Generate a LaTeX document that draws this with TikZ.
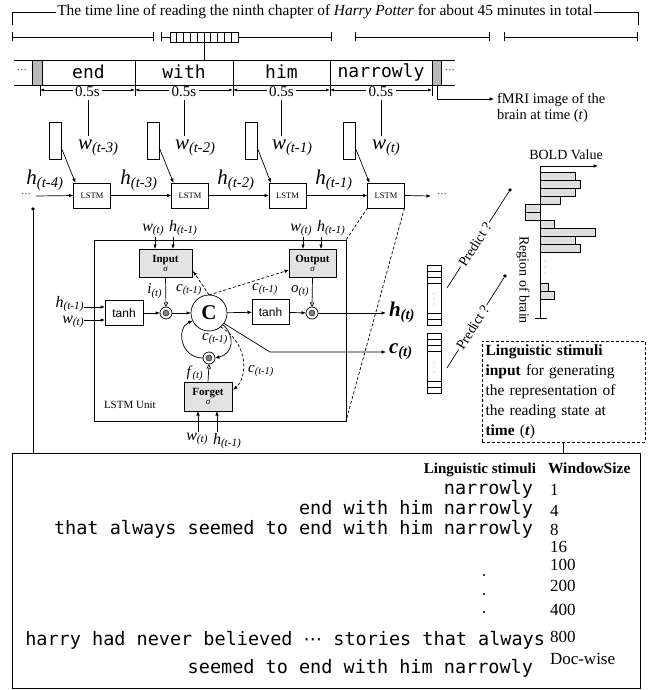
\documentclass[tikz,border=0pt]{standalone}
\usepackage{fontspec}
\setmainfont{Liberation Serif}
\setsansfont{Liberation Sans}
\setmonofont{DejaVu Sans Mono}
\newfontfamily\dvsans{DejaVu Sans}
\usetikzlibrary{arrows.meta,calc}
\newcommand{\fs}[1]{\fontsize{#1}{#1}\selectfont}
\newcommand{\vsb}[2]{\textit{#1}\textsubscript{\textit{#2}}}
\newcommand{\vbd}[2]{\textbf{\textit{#1}}\textsubscript{\textbf{\textit{#2}}}}
\begin{document}
\begin{tikzpicture}[x=1pt,y=-1pt,
  every node/.style={inner sep=0pt,outer sep=0pt},
  ln/.style={line width=0.7pt},
  arr/.style={ln,-{Latex[length=4.5pt,width=3.6pt]}},
  tri/.style={ln,-{Triangle[open,length=4.5pt,width=4.5pt]}},
  dsh/.style={ln,dash pattern=on 3pt off 2pt},
  barend/.style={ln,{Bar[width=9pt]}-{Bar[width=9pt]}},
  lstmbox/.style={draw,ln,minimum width=37pt,minimum height=25pt,font=\fs{8.5}},
  gatebox/.style={draw,ln,fill=gray!22,minimum height=28pt,align=center,font=\fs{11}\bfseries},
  tanhbox/.style={draw,ln,minimum width=38pt,minimum height=25pt,font=\sffamily\fs{12}},
  mult/.style={circle,draw,ln,minimum size=12pt},
  multin/.style={circle,draw,fill=gray,inner sep=0pt,minimum size=6pt},
  vec/.style={draw,ln,minimum width=14pt,minimum height=60pt},
  wrect/.style={draw,ln,minimum width=12pt,minimum height=37pt},
  bigl/.style={font=\fs{21}},
  smalll/.style={font=\fs{16}},
  cl/.style={font=\fs{15}},
  word/.style={font=\ttfamily\fs{18}},
  mono/.style={font=\ttfamily\fs{18.5}},
  num/.style={font=\fs{17}},
  dotn/.style={circle,fill,inner sep=1.4pt},
]
\useasboundingbox (0,0) rectangle (651,690);

% ---------- title and time line
\node[font=\fs{15.4},inner xsep=1.5pt] (title) at (325,12) {The time line of reading the ninth chapter of \textit{Harry Potter} for about 45 minutes in total};
\draw[ln] (12,25) -- (12,12) -- (title.west);
\draw[ln] (title.east) -- (638,12) -- (638,25);

\draw[barend] (12,37) -- (154,37);
\node[draw,ln,minimum width=68pt,minimum height=10pt] (stripe) at (204,37) {};
\draw[ln,{Bar[width=9pt]}-] (161,37) -- (stripe.west);
\draw[ln,-{Bar[width=9pt]}] (stripe.east) -- (332,37);
\foreach \i in {1,...,9} \draw[ln] (170+6.8*\i,32) -- (170+6.8*\i,42);
\draw[barend] (355,37) -- (490,37);
\draw[barend] (504,37) -- (638,37);

% ---------- word strip
\draw[ln] (14,60) -- (455,60);
\draw[ln] (14,85) -- (455,85);
\node[draw,ln,fill=gray!55,minimum width=10pt,minimum height=25pt] (gl) at (37,72.5) {};
\node[draw,ln,fill=gray!55,minimum width=9pt,minimum height=25pt] (gr) at (436.5,72.5) {};
\node[font=\fs{10}] (dl) at (22,72) {···};
\node[font=\fs{10}] (dr) at (450,72) {···};
\node[word] (wend) at (88.5,72) {end};
\node[word] (wwith) at (184,72) {with};
\node[word] (whim) at (281.5,72) {him};
\node[word] (wnar) at (381,72) {narrowly};
\foreach \x in {135,233,330} \draw[ln] (\x,60) -- (\x,85);
\draw[ln] (stripe.south) -- (stripe.south |- 0,60);

% ---------- 0.5 s intervals
\foreach \a/\b/\n in {40/135/1,135/233/2,233/330/3,330/432/4}{
  \draw[ln,{Latex[length=4pt,width=3pt]}-{Latex[length=4pt,width=3pt]}] (\a,90) -- (\b,90);
  \node[fill=white,inner xsep=2.5pt,inner ysep=1pt,font=\fs{15}] (half\n) at ({(\a+\b)/2},92) {0.5s};
}
\foreach \x in {40,135,233,330,432} \draw[ln] (\x,85) -- (\x,96);

% fMRI
\node[anchor=north west,align=left,font=\fontsize{14.5}{16.5}\selectfont] (fmri) at (497,93) {fMRI image of the\\brain at time (\textit{t})};
\draw[arr] (437,85) -- (437,99) -- ($(fmri.north west)+(-3,6)$);

% ---------- words to LSTM chain
\foreach \n/\x in {1/88,2/184,3/281,4/381} \draw[ln] (half\n.south -| \x,0) ++(0,2) -- (\x,136);
\node[bigl,anchor=west] (w1) at (78,148) {\vsb{w}{(t-3)}};
\node[bigl,anchor=west] (w2) at (175,148) {\vsb{w}{(t-2)}};
\node[bigl,anchor=west] (w3) at (272,148) {\vsb{w}{(t-1)}};
\node[bigl,anchor=west] (w4) at (372,148) {\vsb{w}{(t)}};

\node[wrect] (v1) at (55,140.5) {};
\node[wrect] (v2) at (153,140.5) {};
\node[wrect] (v3) at (251,140.5) {};
\node[wrect] (v4) at (349,140.5) {};

\node[lstmbox] (L1) at (92,195.5) {LSTM};
\node[lstmbox] (L2) at (190,195.5) {LSTM};
\node[lstmbox] (L3) at (287.5,195.5) {LSTM};
\node[lstmbox] (L4) at (386,195.5) {LSTM};
\foreach \i in {1,...,4} \draw[arr] ($(v\i.south east)+(0,-12)$) -- ($(L\i.north west)+(2,0)$);

\node[font=\fs{10}] (cdl) at (26,196) {···};
\node[font=\fs{10}] (cdr) at (442,196) {···};
\draw[arr] ($(cdl.east)+(5,0)$) -- (L1.west);
\draw[arr] (L1) -- (L2);
\draw[arr] (L2) -- (L3);
\draw[arr] (L3) -- (L4);
\draw[arr] (L4.east) -- ($(cdr.west)+(-6,0)$);

\node[bigl] (h4) at (45,180) {\vsb{h}{(t-4)}};
\node[bigl] (h3) at (139,180) {\vsb{h}{(t-3)}};
\node[bigl] (h2) at (236,180) {\vsb{h}{(t-2)}};
\node[bigl] (h1) at (334,180) {\vsb{h}{(t-1)}};

% ---------- LSTM unit
\node[draw,ln,minimum width=252pt,minimum height=181pt] (unit) at (220,330.5) {};
\node[font=\fs{11},anchor=west] (unitl) at (104,405) {LSTM Unit};
\draw[dsh] (L4.south west) -- (unit.north east);
\draw[dsh] (L4.south east) -- (unit.south east);

\node[gatebox,minimum width=53pt] (gin) at (165.5,263) {Input\\[-2pt]{\normalfont\itshape\fs{9}σ}};
\node[gatebox,minimum width=47pt] (gout) at (312.5,263) {Output\\[-2pt]{\normalfont\itshape\fs{9}σ}};
\node[gatebox,minimum width=48pt,minimum height=29pt] (gfor) at (208,396.5) {Forget\\[-2pt]{\normalfont\itshape\fs{9}σ}};

\node[smalll,anchor=south east] (giw) at (164,236) {\vsb{w}{(t)}};
\node[smalll,anchor=south west] (gih) at (169,236) {\vsb{h}{(t-1)}};
\draw[arr] (155,237) -- (gin.north -| 155,0);
\draw[arr] (173,237) -- (gin.north -| 173,0);
\node[smalll,anchor=south east] (gow) at (312,236) {\vsb{w}{(t)}};
\node[smalll,anchor=south west] (goh) at (317,236) {\vsb{h}{(t-1)}};
\draw[arr] (303,237) -- (gout.north -| 303,0);
\draw[arr] (321,237) -- (gout.north -| 321,0);
\node[smalll,anchor=north east] (gfw) at (208,433) {\vsb{w}{(t)}};
\node[smalll,anchor=north west] (gfh) at (213,433) {\vsb{h}{(t-1)}};
\draw[arr] (198,432) -- (gfor.south -| 198,0);
\draw[arr] (217,432) -- (gfor.south -| 217,0);

\node[tanhbox] (t1) at (124,313) {tanh};
\node[tanhbox,minimum width=37pt] (t2) at (270.5,312) {tanh};
\node[smalll,anchor=east] (hin) at (84,304) {\vsb{h}{(t-1)}};
\node[smalll,anchor=east] (win) at (84,322) {\vsb{w}{(t)}};
\draw[arr] (hin.east |- 0,307) -- (t1.west |- 0,307);
\draw[arr] (win.east |- 0,320) -- (t1.west |- 0,320);

\node[mult] (m1) at (166,313) {};
\node[multin] (m1i) at (m1) {};
\node[mult] (m2) at (312,313) {};
\node[multin] (m2i) at (m2) {};
\node[mult] (m3) at (209,358) {};
\node[multin] (m3i) at (m3) {};
\node[circle,draw,ln,minimum size=36pt,font=\fs{21}\bfseries] (C) at (209,313) {C};

\draw[arr] (t1) -- (m1);
\draw[arr] (m1) -- (C);
\draw[arr] (C) -- (t2);
\draw[arr] (t2) -- (m2);
\coordinate (hend) at (386,313);
\draw[arr] (m2) -- (hend);
\node[bigl,anchor=west] (hout) at (389,312) {\vbd{h}{(t)}};
\coordinate (cbend) at (270,352);
\coordinate (cend) at (386,352);
\draw[arr] (C.-35) -- (cbend) -- (cend);
\node[bigl,anchor=west] (cout) at (389,352) {\vbd{c}{(t)}};

\draw[tri] (gin.south) -- (m1.north);
\draw[tri] (gout.south) -- (m2.north);
\draw[tri] (gfor.north) -- (m3.south);

\draw[dsh,-{Latex[length=4.5pt,width=3.6pt]}] (C.north) -- ($(gin.south east)+(1,-6)$);
\draw[dsh,-{Latex[length=4.5pt,width=3.6pt]}] (C.north) -- ($(gout.west)+(0,7)$);
\draw[arr] (m3.west) .. controls (180,358) and (176,328) .. (C.205);
\draw[arr] (C.-40) .. controls (236,336) and (233,354) .. (m3.east);
\draw[dsh,-{Latex[length=4.5pt,width=3.6pt]}] (C.-50) .. controls (250,345) and (247,378) .. ($(gfor.north east)+(1,8)$);

\node[cl,anchor=east] (il) at (162,291) {\vsb{i}{(t)}};
\node[cl] (cl1) at (189,290) {\vsb{c}{(t-1)}};
\node[cl] (cl2) at (265,289) {\vsb{c}{(t-1)}};
\node[cl,anchor=east] (ol) at (309,291) {\vsb{o}{(t)}};
\node[cl] (cl3) at (215,339) {\vsb{c}{(t-1)}};
\node[cl] (cl4) at (261,371) {\vsb{c}{(t-1)}};
\node[cl,anchor=east] (fl) at (203,373) {\vsb{f}{(t)}};

% ---------- output vectors
\node[vec] (hv) at (434,295) {};
\node[vec] (cv) at (434,363) {};
\foreach \v in {hv,cv}{
  \foreach \d in {6,12,18} \draw[ln] ($(\v.north west)+(0,\d)$) -- ($(\v.north east)+(0,\d)$);
  \foreach \d in {6,12} \draw[ln] ($(\v.south west)+(0,-\d)$) -- ($(\v.south east)+(0,-\d)$);
  \foreach \k in {-5,0,5} \fill ($(\v.center)+(0,\k+4)$) circle (0.45pt);
}

% predict
\coordinate (q1) at (447,288);
\node[dotn] (p1) at (510,190) {};
\draw[ln] (q1) -- (p1) node[pos=0.45,sloped,fill=white,inner xsep=1.5pt,inner ysep=1pt,font=\fs{14}] (pr1) {Predict ?};
\coordinate (q2) at (447,368);
\node[dotn] (p2) at (505,276) {};
\draw[ln] (q2) -- (p2) node[pos=0.45,sloped,fill=white,inner xsep=1.5pt,inner ysep=1pt,font=\fs{14}] (pr2) {Predict ?};

% ---------- BOLD bar chart
\coordinate (ax0) at (540,166);
\coordinate (ax1) at (540,318);
\coordinate (axr) at (598,166);
\draw[arr] (ax0) -- (axr);
\draw[ln] (ax0) -- (ax1);
\draw[ln] (535,318) -- (547,318);
\node[font=\fs{14}] (boldv) at (566,155) {BOLD Value};
\foreach \y/\l in {172/35,180/40,188/35,196/20,204/-15,212/-15,220/14,228/55,236/35,244/40,283/8,291/14}
  \draw[ln,fill=gray!25] (540,\y) rectangle ({540+\l},{\y+8});
\foreach \y in {261,267,273} \fill (545,\y) circle (0.45pt);
\node[font=\fs{14},rotate=-90] (reg) at (523,280) {Region of brain};

% ---------- stimuli box and table
\node[draw,dsh,anchor=north west,text width=156pt,inner sep=3.5pt,align=left,font=\fontsize{15.5}{20}\selectfont] (ling) at (482,341) {\textbf{Linguistic stimuli}\\\textbf{input} for generating\\the representation of\\the reading state at\\\textbf{time} (\textbf{\textit{t}})};

\node[draw,ln,anchor=north west,minimum width=628pt,minimum height=235pt] (bot) at (12,453) {};
\draw[ln] (ling.south) -- (ling.south |- bot.north);
\node[dotn] (d0) at (33,209) {};
\draw[ln] (d0) -- (d0 |- bot.north);

\node[anchor=base east,font=\fs{15}\bfseries] (hd1) at (536,473) {Linguistic stimuli};
\node[anchor=base west,font=\fs{15.5}\bfseries] (hd2) at (548,473) {WindowSize};

\node[mono,anchor=base east] (s1) at (533,494) {narrowly};
\node[mono,anchor=base east] (s2) at (533,514) {end with him narrowly};
\node[mono,anchor=base east] (s3) at (533,534) {that always seemed to end with him narrowly};
\node[mono,anchor=base east] (s4) at (545,645) {harry had never believed {\dvsans ⋯} stories that always};
\node[mono,anchor=base east] (s5) at (533,673) {seemed to end with him narrowly};
\foreach \y in {575,594,612} \fill (484,\y) circle (1.1pt);

\node[num,anchor=base west] (n1) at (550,495) {1};
\node[num,anchor=base west] (n2) at (550,516) {4};
\node[num,anchor=base west] (n3) at (550,535) {8};
\node[num,anchor=base west] (n4) at (550,552) {16};
\node[num,anchor=base west] (n5) at (550,570) {100};
\node[num,anchor=base west] (n6) at (550,591) {200};
\node[num,anchor=base west] (n7) at (550,615) {400};
\node[num,anchor=base west] (n8) at (550,642) {800};
\node[num,anchor=base west] (n9) at (550,664) {Doc-wise};
\end{tikzpicture}
\end{document}
